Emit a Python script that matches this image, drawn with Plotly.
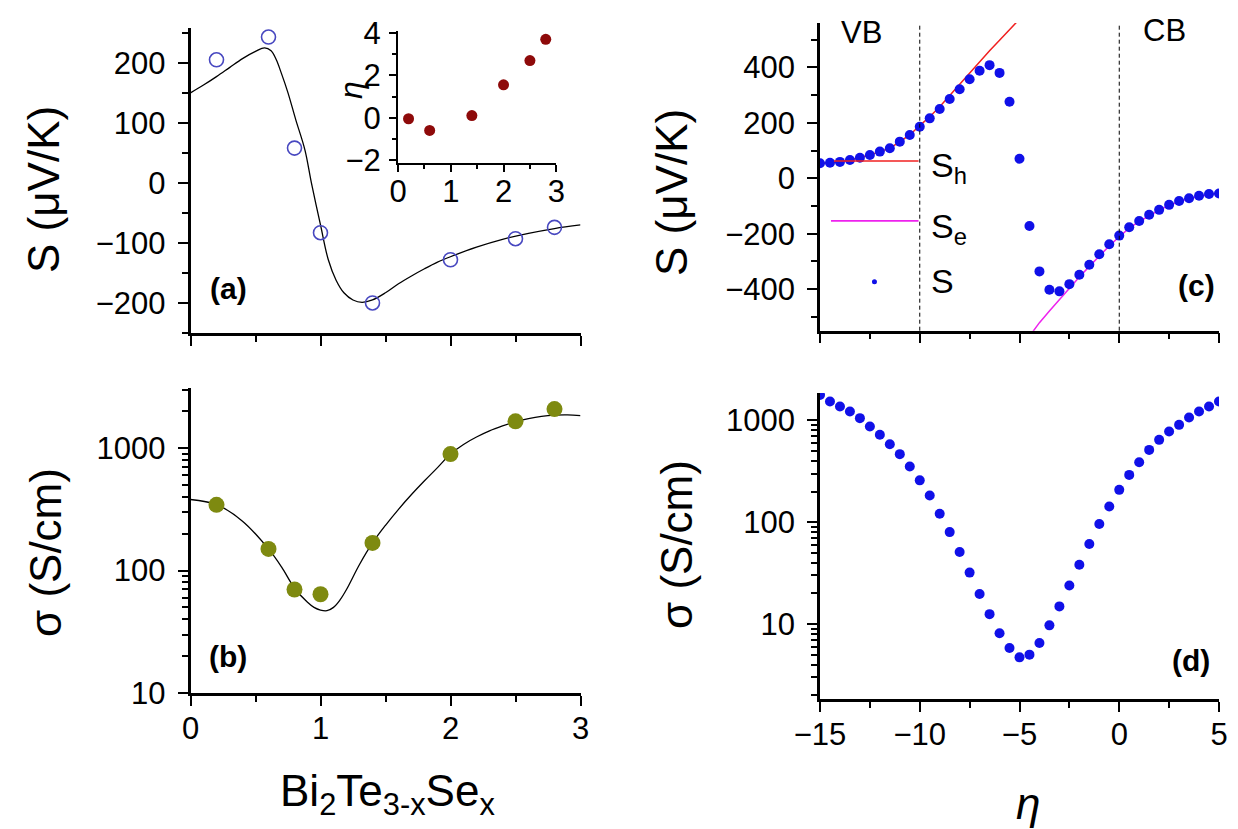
import plotly.graph_objects as go

# ---------------- data ----------------
# panel (a): Seebeck vs composition x
comp_x = [0.2, 0.6, 0.8, 1.0, 1.4, 2.0, 2.5, 2.8]
seebeck_meas = [205, 243, 58, -83, -200, -128, -93, -74]
fit_a_x = [0.0, 0.1, 0.2, 0.3, 0.4, 0.5, 0.57, 0.62, 0.66, 0.7, 0.75, 0.81, 0.88, 0.93, 1.0,
           1.06, 1.12, 1.18, 1.25, 1.32, 1.4, 1.5, 1.6, 1.7, 1.8, 1.9, 2.0, 2.2, 2.4, 2.6, 2.8, 3.0]
fit_a_y = [150, 163, 177, 192, 207, 219, 225, 220, 205, 182, 150, 105, 55, 0, -70,
           -128, -162, -183, -195, -199, -195, -183, -168, -155, -143, -132, -123, -107, -94, -84, -76, -70]

# inset: eta vs x
inset_x = [0.2, 0.6, 1.4, 2.0, 2.5, 2.8]
inset_eta = [-0.05, -0.6, 0.1, 1.55, 2.7, 3.7]

# panel (b): conductivity vs composition x
sigma_meas = [344, 150, 70, 64, 168, 893, 1652, 2080]
fit_b_x = [0.0, 0.2, 0.4, 0.6, 0.7, 0.8, 0.9, 0.95, 1.0, 1.05, 1.1, 1.15, 1.2, 1.3, 1.4, 1.5,
           1.6, 1.7, 1.8, 1.9, 2.0, 2.1, 2.2, 2.3, 2.4, 2.5, 2.6, 2.7, 2.8, 2.9, 3.0]
fit_b_y = [380, 345, 253, 150, 107, 72, 55, 50, 47.5, 47, 50, 57.5, 70, 112, 168, 234,
           316, 417, 540, 692, 893, 1070, 1230, 1380, 1514, 1640, 1738, 1811, 1853, 1862, 1841]

# panels (c), (d): model vs reduced Fermi level eta
eta = [-15, -14.5, -14, -13.5, -13, -12.5, -12, -11.5, -11, -10.5, -10, -9.5, -9, -8.5, -8,
       -7.5, -7, -6.5, -6, -5.5, -5, -4.5, -4, -3.5, -3, -2.5, -2, -1.5, -1, -0.5, 0,
       0.5, 1, 1.5, 2, 2.5, 3, 3.5, 4, 4.5, 5]
S_total = [54, 56, 59, 66, 74, 84, 96, 108, 132, 156, 186, 216, 250, 286, 321,
           357, 388, 408, 380, 276, 70, -172, -336, -402, -408, -382, -348, -312, -274, -238, -207,
           -177, -154, -132, -114, -96, -82, -72, -63, -57, -55]
eta_h = [-15, -14.5, -14, -13.5, -13, -12.5, -12, -11.5, -11, -10.5, -10, -9.5, -9, -8.5, -8,
         -7.5, -7, -6.5, -6, -5.5, -5]
S_h = [54, 56, 59, 66, 74, 84, 96, 108, 132, 156, 190, 222, 258, 298, 340,
       382, 422, 460, 498, 536, 574]
eta_e = [-4.5, -4, -3.5, -3, -2.5, -2, -1.5, -1, -0.5, 0, 0.5, 1, 1.5, 2, 2.5, 3, 3.5, 4, 4.5, 5]
S_e = [-570, -521, -479, -437, -396, -356, -318, -280, -244, -211, -180, -156, -134, -115,
       -98, -84, -73, -65, -59, -55]
sigma_model = [1783, 1538, 1372, 1225, 1054, 873, 723, 585, 467, 353, 258, 183, 121, 80, 51,
               32, 19.7, 12.5, 8.1, 5.8, 4.7, 5.0, 6.5, 9.7, 14.9, 23.9, 38.2, 61, 96, 143, 208,
               292, 389, 514, 645, 780, 906, 1070, 1225, 1372, 1538]

# ---------------- styling ----------------
W, H = 1238, 829
FONT = "Liberation Sans, Arial, sans-serif"
TICKFONT = dict(family=FONT, size=31, color="black")


def px(x):
    return x / W


def py(y):
    return 1 - y / H


def axis(**kw):
    base = dict(showline=True, linecolor="black", linewidth=2.5, ticks="outside",
                ticklen=10, tickwidth=2, tickcolor="black", showgrid=False, zeroline=False,
                mirror=False, tickfont=TICKFONT, ticklabelstandoff=6)
    base.update(kw)
    return base


def minor(**kw):
    base = dict(ticks="outside", ticklen=6, tickwidth=2, tickcolor="black", showgrid=False)
    base.update(kw)
    return base


XSTAND = -4

fig = go.Figure()

# (a)
fig.add_trace(go.Scatter(x=fit_a_x, y=fit_a_y, mode="lines", xaxis="x", yaxis="y",
                         line=dict(color="black", width=1.3, shape="spline", smoothing=1.0),
                         showlegend=False))
fig.add_trace(go.Scatter(x=comp_x, y=seebeck_meas, mode="markers", xaxis="x", yaxis="y",
                         marker=dict(symbol="circle-open", size=14, color="#4848C0",
                                     line=dict(width=1.6, color="#4848C0")),
                         showlegend=False))
# inset
fig.add_trace(go.Scatter(x=inset_x, y=inset_eta, mode="markers", xaxis="x5", yaxis="y5",
                         marker=dict(size=11, color="#8E0A0A"), showlegend=False))
# (b)
fig.add_trace(go.Scatter(x=fit_b_x, y=fit_b_y, mode="lines", xaxis="x2", yaxis="y2",
                         line=dict(color="black", width=1.3, shape="spline", smoothing=1.0),
                         showlegend=False))
fig.add_trace(go.Scatter(x=comp_x, y=sigma_meas, mode="markers", xaxis="x2", yaxis="y2",
                         marker=dict(size=16, color="#7E8A10"), showlegend=False))
# (c)
fig.add_trace(go.Scatter(x=eta_h, y=S_h, mode="lines", xaxis="x3", yaxis="y3",
                         line=dict(color="#F02020", width=1.5), showlegend=False))
fig.add_trace(go.Scatter(x=eta_e, y=S_e, mode="lines", xaxis="x3", yaxis="y3",
                         line=dict(color="#EE22EE", width=1.5), showlegend=False))
fig.add_trace(go.Scatter(x=eta, y=S_total, mode="markers", xaxis="x3", yaxis="y3",
                         marker=dict(size=10, color="#1010E8"), showlegend=False))
# (d)
fig.add_trace(go.Scatter(x=eta, y=sigma_model, mode="markers", xaxis="x4", yaxis="y4",
                         marker=dict(size=10, color="#1010E8"), showlegend=False))

log_minor = [20, 30, 40, 50, 60, 70, 80, 90, 200, 300, 400, 500, 600, 700, 800, 900, 2000, 3000]
log_minor_d = [2, 3, 4, 5, 6, 7, 8, 9] + log_minor

fig.update_layout(
    width=W, height=H,
    margin=dict(l=0, r=0, t=0, b=0, autoexpand=False),
    paper_bgcolor="white", plot_bgcolor="rgba(0,0,0,0)",
    showlegend=False,
    xaxis=axis(domain=[px(182.5), px(572.5)], anchor="y", range=[0, 3], tick0=0, dtick=1,
               showticklabels=False, minor=minor(dtick=0.5)),
    yaxis=axis(domain=[py(325), py(20)], anchor="x", range=[-250, 258], tick0=0, dtick=100,
               minor=minor(dtick=50)),
    xaxis2=axis(domain=[px(182.5), px(572.5)], anchor="y2", range=[0, 3], tick0=0, dtick=1,
                ticklabelstandoff=XSTAND, minor=minor(dtick=0.5)),
    yaxis2=axis(domain=[py(685), py(380)], anchor="x2", type="log", range=[1, 3.49],
                tickmode="array", tickvals=[10, 100, 1000], ticktext=["10", "100", "1000"],
                minor=minor(tickvals=log_minor, ticklen=6, tickwidth=1.8)),
    xaxis3=axis(domain=[px(812), px(1211)], anchor="y3", range=[-15, 5], tick0=0, dtick=5,
                showticklabels=False, minor=minor(dtick=2.5)),
    yaxis3=axis(domain=[py(322.7), py(15)], anchor="x3", range=[-550, 560], tick0=0, dtick=200,
                minor=minor(dtick=100)),
    xaxis4=axis(domain=[px(812), px(1211)], anchor="y4", range=[-15, 5], tick0=0, dtick=5,
                ticklabelstandoff=XSTAND, minor=minor(dtick=2.5)),
    yaxis4=axis(domain=[py(691), py(385)], anchor="x4", type="log", range=[0.263, 3.27],
                tickmode="array", tickvals=[10, 100, 1000], ticktext=["10", "100", "1000"],
                minor=minor(tickvals=log_minor_d, ticklen=6, tickwidth=1.8)),
    xaxis5=axis(domain=[px(390), px(548.3)], anchor="y5", range=[0, 3], tick0=0, dtick=1,
                ticklen=7, linewidth=2, ticklabelstandoff=-7, minor=minor(dtick=0.5, ticklen=4)),
    yaxis5=axis(domain=[py(155), py(23.3)], anchor="x5", range=[-2.14, 4.08], tick0=0, dtick=2,
                ticklen=7, linewidth=2, ticklabelstandoff=2, minor=minor(dtick=1, ticklen=4)),
)

# dashed band-edge markers in (c)
for xv in (-10, 0):
    fig.add_shape(type="line", xref="x3", yref="y3 domain", x0=xv, x1=xv, y0=0, y1=1,
                  line=dict(color="black", width=1, dash="4px,3px"))

# legend of (c)
fig.add_shape(type="line", xref="x3", yref="y3", x0=-14.3, x1=-10.06, y0=62, y1=62,
              line=dict(color="#F02020", width=1.6), layer="above")
fig.add_shape(type="line", xref="x3", yref="y3", x0=-14.45, x1=-10.06, y0=-154, y1=-154,
              line=dict(color="#EE22EE", width=1.8))
fig.add_shape(type="circle", xref="x3", yref="y3", xsizemode="pixel", ysizemode="pixel",
              xanchor=-12.27, yanchor=-373, x0=-2.5, x1=2.5, y0=-2.5, y1=2.5,
              fillcolor="#1010E8", line=dict(width=0))

ann = []


def text(x, y, s, size=31, bold=False, angle=0, xanchor="center", yanchor="middle", italic=False):
    t = s
    if bold:
        t = "<b>" + t + "</b>"
    if italic:
        t = "<i>" + t + "</i>"
    ann.append(dict(x=px(x), y=py(y), xref="paper", yref="paper", text=t, showarrow=False,
                    textangle=angle, xanchor=xanchor, yanchor=yanchor,
                    font=dict(family=FONT, size=size, color="black")))


# axis titles
text(36, 182, "S (\u03bcV/K)", size=44, angle=-90)
text(37, 545, "\u03c3 (S/cm)", size=44, angle=-90)
text(663, 185, "S (\u03bcV/K)", size=44, angle=-90)
text(668, 537, "\u03c3 (S/cm)", size=44, angle=-90)
text(380, 786, "Bi<sub>2</sub>Te<sub>3-x</sub>Se<sub>x</sub>", size=44)
text(1020, 795, "\u03b7", size=44, italic=True)
text(343, 82, "\u03b7", size=32, italic=True, angle=-90)
# panel labels
text(220, 280, "(a)", size=30, bold=True)
text(220, 648, "(b)", size=30, bold=True)
text(1188, 277, "(c)", size=30, bold=True)
text(1183, 652, "(d)", size=30, bold=True)
# band labels
text(854, 24, "VB", size=31)
text(1156, 22, "CB", size=31)
# legend texts
text(921, 160, "S<sub>h</sub>", size=34, xanchor="left")
text(921, 220, "S<sub>e</sub>", size=34, xanchor="left")
text(921, 273, "S", size=34, xanchor="left")

fig.update_layout(annotations=ann)

fig.write_html("out.html")
